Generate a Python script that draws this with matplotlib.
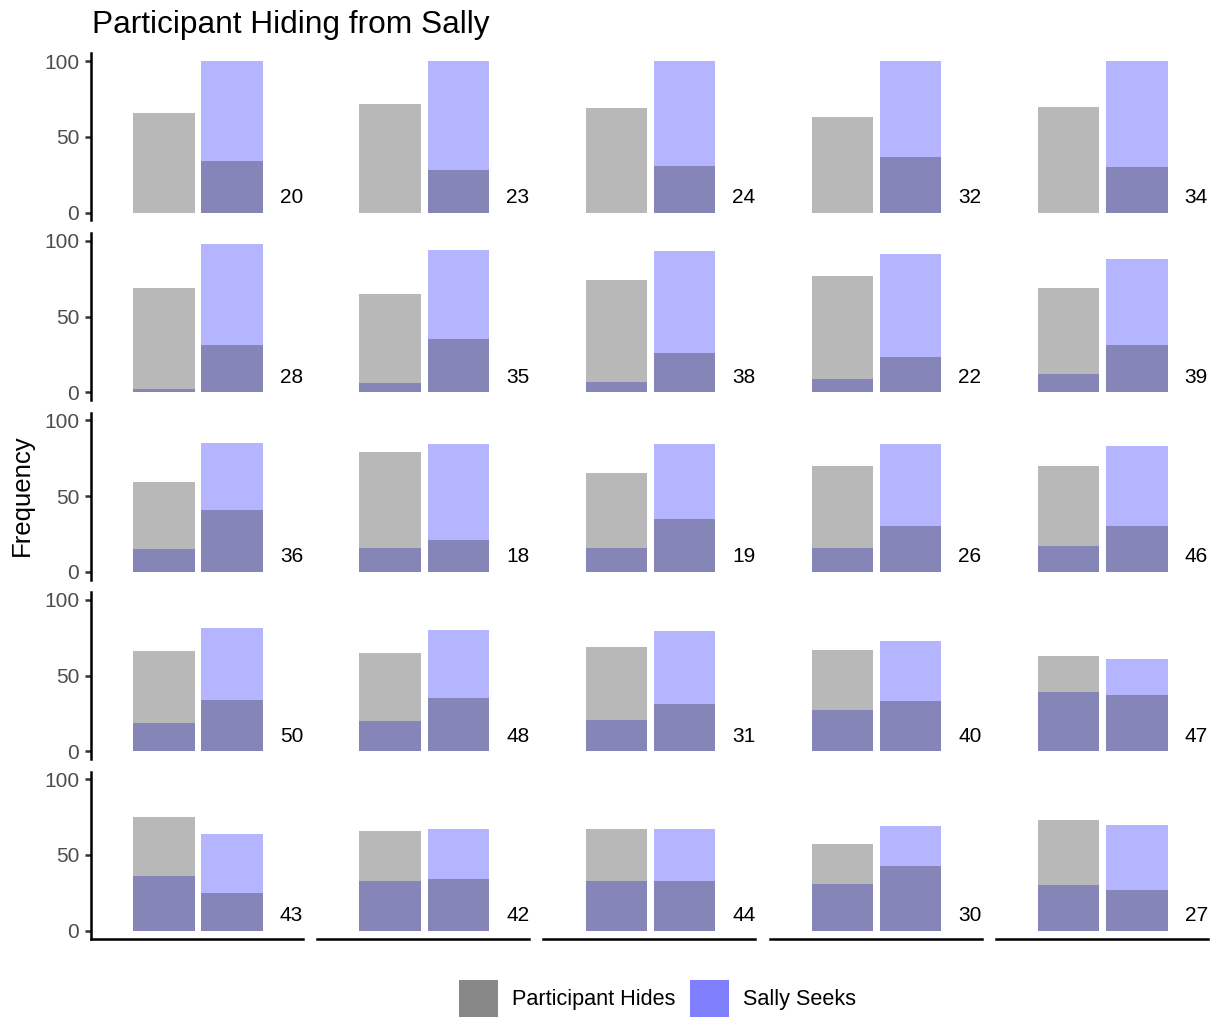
import matplotlib
matplotlib.use("Agg")
import matplotlib.pyplot as plt
from matplotlib.patches import Patch

# panel labels, row by row (5 x 5 grid)
panel_ids = [20, 23, 24, 32, 34,
             28, 35, 38, 22, 39,
             36, 18, 19, 26, 46,
             50, 48, 31, 40, 47,
             43, 42, 44, 30, 27]

# percentage of participant hides at location 1 / location 2
hides_loc1 = [66, 72, 69, 63, 70,
              69, 65, 74, 77, 69,
              59, 79, 65, 70, 70,
              66, 65, 69, 67, 63,
              75, 66, 67, 57, 73]
hides_loc2 = [34, 28, 31, 37, 30,
              31, 35, 26, 23, 31,
              41, 21, 35, 30, 30,
              34, 35, 31, 33, 37,
              25, 34, 33, 43, 27]

# percentage of sally seeks at location 1 / location 2
seeks_loc1 = [0, 0, 0, 0, 0,
              2, 6, 7, 9, 12,
              15, 16, 16, 16, 17,
              19, 20, 21, 27, 39,
              36, 33, 33, 31, 30]
seeks_loc2 = [100, 100, 100, 100, 100,
              98, 94, 93, 91, 88,
              85, 84, 84, 84, 83,
              81, 80, 79, 73, 61,
              64, 67, 67, 69, 70]

positions = [1, 2]
yticks = [0, 50, 100]

W, H = 1217, 1017
fig = plt.figure(figsize=(W / 100, H / 100), dpi=100)
plt.rcParams['font.family'] = ['Liberation Sans', 'DejaVu Sans']

gray = '#161616'
blue = '#0000FF'

for i, pid in enumerate(panel_ids):
    r, c = divmod(i, 5)
    left = 91 + 226.2 * c
    top = 53.5 + 179.5 * r
    ax = fig.add_axes([left / W, 1 - (top + 167) / H, 212 / W, 167 / H])

    ax.bar(positions, [seeks_loc1[i], seeks_loc2[i]], width=0.9,
           color=blue, alpha=0.29, linewidth=0, zorder=2)
    ax.bar(positions, [hides_loc1[i], hides_loc2[i]], width=0.9,
           color=gray, alpha=0.3, linewidth=0, zorder=3)
    ax.text(2.7, 10, str(pid), ha='left', va='center', fontsize=15,
            color='black')

    ax.set_xlim(-0.07, 3.04)
    ax.set_ylim(-5, 105)
    ax.set_xticks([])
    for s in ['top', 'right']:
        ax.spines[s].set_visible(False)
    ax.spines['left'].set_visible(c == 0)
    ax.spines['bottom'].set_visible(r == 4)
    ax.spines['left'].set_linewidth(1.8)
    ax.spines['bottom'].set_linewidth(1.8)
    if c == 0:
        ax.set_yticks(yticks)
        ax.tick_params(axis='y', length=4.5, width=1.8, color='#333333',
                       labelsize=15, labelcolor='#4D4D4D', pad=4)
    else:
        ax.set_yticks([])

fig.text(92 / W, 1 - 33 / H, "Participant Hiding from Sally", fontsize=22.8,
         ha='left', va='baseline')
fig.text(22 / W, 1 - 495 / H, "Frequency", fontsize=18.5, rotation=90,
         ha='center', va='center')

handles = [Patch(facecolor='#888888', linewidth=0),
           Patch(facecolor='#8080FF', linewidth=0)]
fig.legend(handles, ["Participant Hides", "Sally Seeks"], loc='lower center',
           bbox_to_anchor=(657.5 / W, 0.0), ncol=2, frameon=False,
           fontsize=15.6, handlelength=1.8, handleheight=2.25,
           handletextpad=0.65, columnspacing=0.7, borderpad=0,
           borderaxespad=0)

fig.savefig("out.png", dpi=100)
